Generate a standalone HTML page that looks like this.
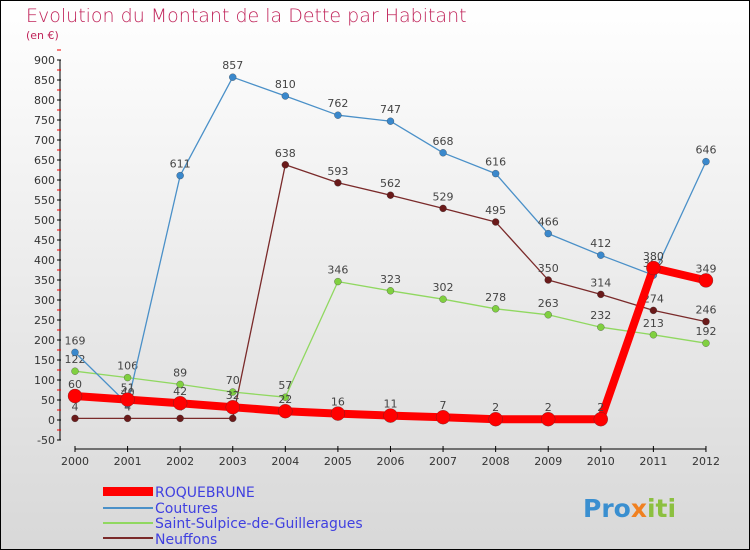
<!DOCTYPE html>
<html><head><meta charset="utf-8"><style>
body{margin:0}
svg{display:block;font-family:"DejaVu Sans","Liberation Sans",sans-serif}
</style></head><body>
<svg width="750" height="550" xmlns="http://www.w3.org/2000/svg">
<defs><linearGradient id="bg" x1="0" y1="0" x2="0" y2="1"><stop offset="0" stop-color="#ffffff"/><stop offset="1" stop-color="#d8d8d8"/></linearGradient></defs>
<rect x="0.5" y="0.5" width="749" height="549" fill="url(#bg)" stroke="#000"/>
<text x="26" y="22" font-size="19" fill="#c0245a" font-weight="300">Evolution du Montant de la Dette par Habitant</text>
<text x="26" y="39" font-size="11" fill="#c0245a">(en €)</text>
<g id="axes"></g><g id="series"></g>
<g>
<rect x="103" y="487" width="50" height="9" fill="#f00"/><text x="155" y="497" font-size="14" fill="#4040e0">ROQUEBRUNE</text>
<line x1="103" y1="508" x2="153" y2="508" stroke="#4a90c8" stroke-width="2"/><text x="155" y="513" font-size="14" fill="#4040e0">Coutures</text>
<line x1="103" y1="523" x2="153" y2="523" stroke="#90d860" stroke-width="2"/><text x="155" y="528" font-size="14" fill="#4040e0">Saint-Sulpice-de-Guilleragues</text>
<line x1="103" y1="538" x2="153" y2="538" stroke="#7a2a2a" stroke-width="2"/><text x="155" y="544" font-size="14" fill="#4040e0">Neuffons</text>
</g>
<text x="583" y="517" font-size="25" font-weight="bold" fill="#3a8fd0">Pro<tspan fill="#f08020">x</tspan><tspan fill="#8cc040">iti</tspan></text>
</svg>
<script>
const years=[2000,2001,2002,2003,2004,2005,2006,2007,2008,2009,2010,2011,2012];
const yTicks=[-50,0,50,100,150,200,250,300,350,400,450,500,550,600,650,700,750,800,850,900];
const roquebrune=[60,51,42,32,22,16,11,7,2,2,2,380,349];
const coutures=[169,40,611,857,810,762,747,668,616,466,412,362,646];
const sulpice=[122,106,89,70,57,346,323,302,278,263,232,213,192];
const neuffons=[4,4,4,4,638,593,562,529,495,350,314,274,246];
const NS="http://www.w3.org/2000/svg";
const X=i=>75+i*52.58, Y=v=>420-v*0.4;
function mk(t,a,p){const e=document.createElementNS(NS,t);for(const k in a)e.setAttribute(k,a[k]);p.appendChild(e);return e;}
const ax=document.getElementById('axes'), sg=document.getElementById('series');
const ya=mk('line',{x1:60,y1:60,x2:60,y2:440,stroke:'#000'},ax);


yTicks.forEach(v=>{
 mk('line',{x1:57,y1:Y(v),x2:61,y2:Y(v),stroke:'#000'},ax);
 mk('line',{x1:57,y1:Y(v+25),x2:61,y2:Y(v+25),stroke:'#e00'},ax);
 const t=mk('text',{x:55,y:Y(v)+4,'font-size':11,'text-anchor':'end',fill:'#333'},ax);t.textContent=v;
 
 
});
const xa=mk('line',{x1:75,y1:449,x2:X(12),y2:449,stroke:'#000'},ax);


years.forEach((y,i)=>{
 mk('line',{x1:X(i),y1:446,x2:X(i),y2:452,stroke:'#000'},ax);
 const t=mk('text',{x:X(i),y:465,'font-size':11,'text-anchor':'middle',fill:'#333'},ax);t.textContent=y;
 
 
});
function series(d,col,w,r,name,fill){
 const g=mk('g',{},sg);
 
 
 mk('polyline',{points:d.map((v,i)=>X(i)+','+Y(v)).join(' '),fill:'none',stroke:col,'stroke-width':w,'stroke-linejoin':'round'},g);
 d.forEach((v,i)=>{
  mk('circle',{cx:X(i),cy:Y(v),r:r,fill:fill,stroke:'#333','stroke-width':0.3},g);
  const t=mk('text',{x:X(i),y:Y(v)-8,'font-size':11,'text-anchor':'middle',fill:'#444'},g);t.textContent=v;
 });
}
series(neuffons,'#7a2a2a',1.3,3.5,'series-neuffons','#6a1a1a');
series(sulpice,'#90d860',1.3,3.5,'series-saint-sulpice','#80d040');
series(coutures,'#4a90c8',1.3,3.5,'series-coutures','#3a88cc');
series(roquebrune,'#f00',8,7,'series-roquebrune','#f00');
</script>
</body></html>
